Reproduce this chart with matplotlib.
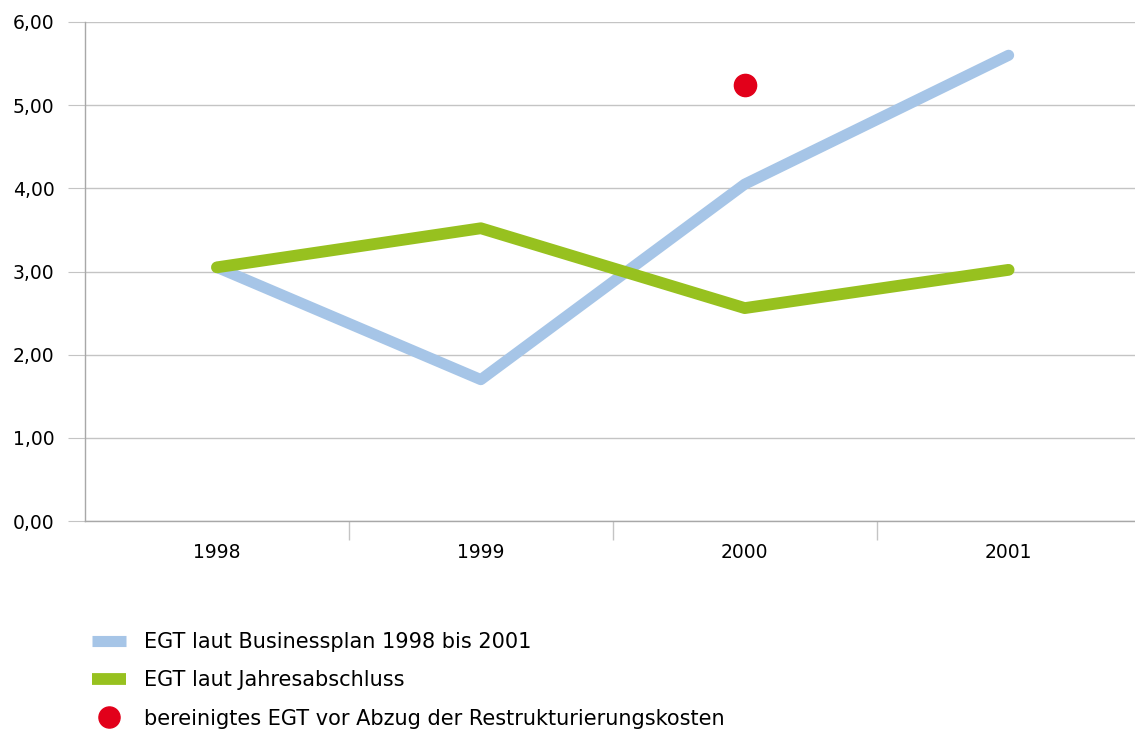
import matplotlib.pyplot as plt
from matplotlib.ticker import FixedLocator, FuncFormatter

years = ["1998", "1999", "2000", "2001"]
plan = [3.05, 1.70, 4.05, 5.60]
actual = [3.05, 3.52, 2.56, 3.02]
adjusted_year = 2
adjusted_value = 5.24

labels = [
    "EGT laut Businessplan 1998 bis 2001",
    "EGT laut Jahresabschluss",
    "bereinigtes EGT vor Abzug der Restrukturierungskosten",
]

BLUE = "#a6c5e7"
GREEN = "#97c11f"
RED = "#e2001a"
GRID = "#c4c4c4"

plt.rcParams['font.family'] = ['DejaVu Sans']

fig = plt.figure(figsize=(11.35, 7.33), dpi=100)
ax = fig.add_axes([0.0749, 0.2892, 0.930, 0.6808])

x = range(len(years))
ax.plot(x, plan, color=BLUE, lw=8, solid_capstyle='round',
        solid_joinstyle='round', label=labels[0], zorder=3)
ax.plot(x, actual, color=GREEN, lw=8.5, solid_capstyle='round',
        solid_joinstyle='round', label=labels[1], zorder=4)
ax.plot([adjusted_year], [adjusted_value], 'o', color=RED, ms=16,
        linestyle='none', label=labels[2], zorder=5)

ax.set_xlim(-0.5, 3.5)
ax.set_ylim(0, 6)
ax.set_yticks(range(0, 7))
ax.yaxis.set_major_formatter(FuncFormatter(lambda v, p: f"{v:.2f}".replace(".", ",")))
ax.set_xticks(list(x))
ax.set_xticklabels(years)
ax.xaxis.set_minor_locator(FixedLocator([0.5, 1.5, 2.5]))

ax.grid(axis='y', color=GRID, lw=1)
ax.set_axisbelow(True)
for side in ['top', 'right']:
    ax.spines[side].set_visible(False)
for side in ['left', 'bottom']:
    ax.spines[side].set_color("#a8a8a8")
    ax.spines[side].set_linewidth(1)

ax.tick_params(axis='y', length=12, color=GRID, pad=10, labelsize=13.5)
ax.tick_params(axis='x', which='major', length=0, pad=16, labelsize=13.5)
ax.tick_params(axis='x', which='minor', length=14, color=GRID, width=1)

leg = ax.legend(loc='upper left', bbox_to_anchor=(0.074, 0.149),
                bbox_transform=fig.transFigure, frameon=False,
                fontsize=15, handlelength=1.6, handletextpad=0.9,
                labelspacing=0.88, borderaxespad=0, markerscale=0.95)
for h in leg.legend_handles[:2]:
    h.set_solid_capstyle('butt')

fig.savefig("out.png", dpi=100)
